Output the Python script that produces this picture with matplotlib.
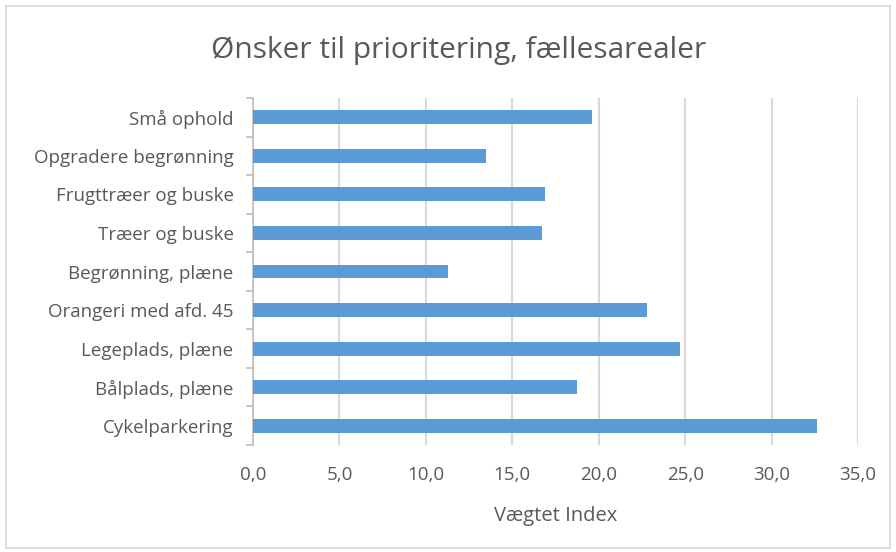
import matplotlib
matplotlib.use('Agg')
import matplotlib.pyplot as plt
from matplotlib.patches import Rectangle
from matplotlib.ticker import FixedLocator, FuncFormatter

# Data (top to bottom as shown in the chart)
categories = ['Små ophold', 'Opgradere begrønning', 'Frugttræer og buske', 'Træer og buske',
              'Begrønning, plæne', 'Orangeri med afd. 45', 'Legeplads, plæne', 'Bålplads, plæne',
              'Cykelparkering']
values = [19.6, 13.5, 16.9, 16.7, 11.3, 22.8, 24.7, 18.75, 32.6]
x_ticks = [0, 5, 10, 15, 20, 25, 30, 35]

plt.rcParams['font.family'] = ['Open Sans', 'DejaVu Sans']
TEXT = '#595959'

fig = plt.figure(figsize=(8.96, 5.52), dpi=100)
ax = fig.add_axes([0.2824, 0.1938, 0.6752, 0.6287])

ypos = list(range(len(categories)))[::-1]
ax.barh(ypos, values, height=0.36, color='#5B9BD5', zorder=3)

ax.set_xlim(0, 35)
ax.set_ylim(-0.5, len(categories) - 0.5)
ax.set_xticks(x_ticks)
ax.xaxis.set_major_formatter(FuncFormatter(lambda v, p: f'{v:.1f}'.replace('.', ',')))
ax.set_yticks(ypos)
ax.set_yticklabels(categories)
ax.yaxis.set_minor_locator(FixedLocator([i - 0.5 for i in range(len(categories) + 1)]))

ax.grid(axis='x', color='#D9D9D9', linewidth=1.5, zorder=0)
ax.set_axisbelow(True)
for s in ['top', 'right', 'bottom']:
    ax.spines[s].set_visible(False)
ax.spines['left'].set_color('#BFBFBF')
ax.spines['left'].set_linewidth(1.2)

ax.tick_params(axis='x', length=0, labelsize=13.5, labelcolor=TEXT, pad=15)
ax.tick_params(axis='y', which='major', length=0, labelsize=13.5, labelcolor=TEXT, pad=14)
ax.tick_params(axis='y', which='minor', length=5, color='#BFBFBF', width=1.2)

ax.set_xlabel('Vægtet Index', fontsize=14.5, color=TEXT, labelpad=16)
fig.text(0.512, 0.908, 'Ønsker til prioritering, fællesarealer', ha='center', va='center',
         fontsize=21.5, color=TEXT)

fig.patches.append(Rectangle((6 / 896, 4 / 552), 884 / 896, 542 / 552, transform=fig.transFigure,
                             fill=False, edgecolor='#D9D9D9', linewidth=1.2))

fig.savefig('out.png', dpi=100)
